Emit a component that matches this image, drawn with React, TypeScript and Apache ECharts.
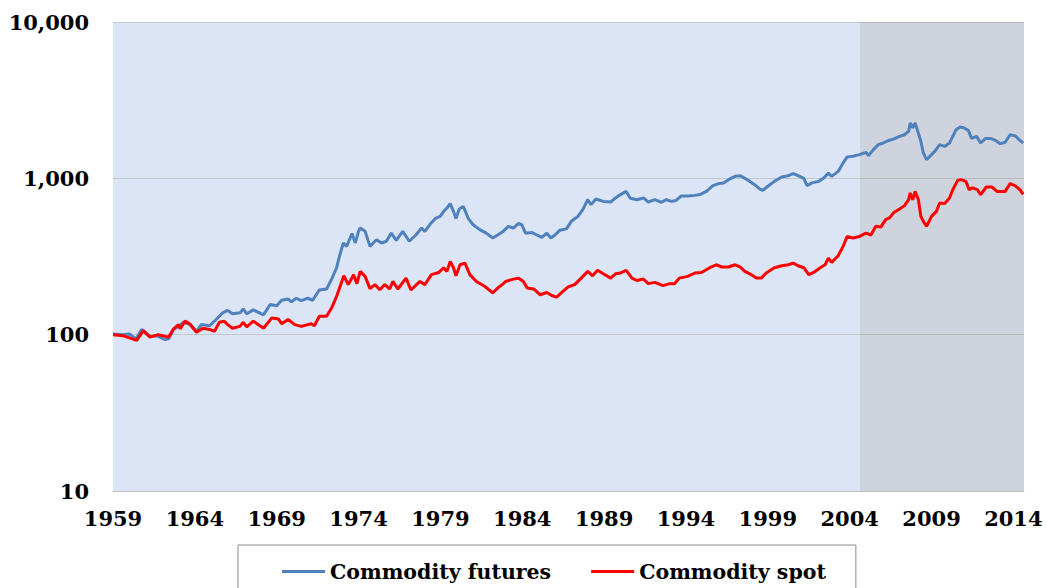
import React, { useEffect, useRef } from "react";
import * as echarts from "echarts";

const BASE_YEAR = 1959;
const X_MAX_YEAR = 2014.65;
const SHADE_START = 2004.63;
const yTicks = [10, 100, 1000, 10000];

const futuresYears = [
  1959.0, 1959.6, 1960.0, 1960.4, 1960.75, 1961.26, 1961.67, 1962.18, 1962.4, 1962.7,
  1963.0, 1963.3, 1963.7, 1964.1, 1964.4, 1964.9, 1965.3, 1965.7, 1966.0, 1966.3,
  1966.76, 1966.96, 1967.17, 1967.57, 1968.2, 1968.6, 1969.0, 1969.3, 1969.7, 1969.9,
  1970.2, 1970.5, 1970.9, 1971.2, 1971.6, 1972.05, 1972.35, 1972.66, 1972.86, 1973.07,
  1973.27, 1973.6, 1973.8, 1974.0, 1974.1, 1974.4, 1974.7, 1974.9, 1975.1, 1975.4,
  1975.7, 1976.0, 1976.3, 1976.7, 1977.1, 1977.5, 1977.85, 1978.05, 1978.4, 1978.7,
  1979.0, 1979.2, 1979.4, 1979.6, 1979.8, 1979.95, 1980.15, 1980.4, 1980.7, 1981.0,
  1981.4, 1981.8, 1982.2, 1982.5, 1982.8, 1983.15, 1983.45, 1983.76, 1983.97, 1984.2,
  1984.6, 1984.9, 1985.2, 1985.5, 1985.75, 1986.0, 1986.3, 1986.7, 1987.0, 1987.4,
  1987.7, 1988.0, 1988.2, 1988.5, 1988.95, 1989.4, 1989.7, 1990.0, 1990.35, 1990.6,
  1991.0, 1991.4, 1991.7, 1992.1, 1992.5, 1992.8, 1993.1, 1993.4, 1993.7, 1994.1,
  1994.55, 1994.85, 1995.25, 1995.65, 1996.0, 1996.3, 1996.6, 1997.0, 1997.3, 1997.6,
  1997.9, 1998.2, 1998.5, 1998.7, 1999.0, 1999.4, 1999.85, 2000.25, 2000.55, 2000.85,
  2001.2, 2001.4, 2001.7, 2002.1, 2002.4, 2002.7, 2002.9, 2003.3, 2003.6, 2003.85,
  2004.2, 2004.6, 2005.0, 2005.15, 2005.45, 2005.75, 2006.05, 2006.35, 2006.7, 2007.05,
  2007.35, 2007.6, 2007.7, 2007.85, 2008.0, 2008.1, 2008.35, 2008.5, 2008.7, 2009.0,
  2009.2, 2009.5, 2009.8, 2010.1, 2010.3, 2010.5, 2010.75, 2011.0, 2011.25, 2011.45,
  2011.75, 2012.0, 2012.3, 2012.6, 2012.9, 2013.2, 2013.5, 2013.8, 2014.1, 2014.4,
  2014.6,
];
const futuresValues = [
  101, 100, 101, 94, 108, 97.5, 98.5, 93, 94, 108,
  113, 120, 116, 105, 116, 114, 125, 138, 143, 136,
  138, 146, 136, 144, 134, 156, 153, 166, 169, 162,
  171, 165, 171, 166, 193, 196, 226, 268, 325, 386,
  367, 443, 386, 458, 481, 458, 367, 386, 405, 386,
  396, 446, 401, 458, 396, 434, 481, 458, 514, 554,
  573, 615, 646, 689, 615, 554, 637, 661, 554, 505,
  470, 446, 415, 434, 455, 493, 481, 514, 505, 446,
  450, 434, 419, 446, 415, 434, 466, 475, 531, 571,
  631, 730, 679, 737, 712, 706, 749, 787, 825, 745,
  730, 749, 706, 730, 703, 730, 712, 722, 770, 770,
  778, 787, 825, 898, 925, 935, 981, 1030, 1040, 1000,
  956, 911, 855, 838, 890, 956, 1020, 1040, 1072, 1040,
  1000, 898, 935, 956, 1000, 1080, 1030, 1108, 1254, 1370,
  1383, 1417, 1465, 1398, 1526, 1642, 1683, 1740, 1790, 1856,
  1900, 1998, 2260, 2100, 2260, 2100, 1724, 1453, 1316, 1417,
  1488, 1642, 1600, 1683, 1856, 2048, 2131, 2100, 2025, 1800,
  1856, 1683, 1800, 1800, 1750, 1667, 1700, 1900, 1874, 1750,
  1683,
];

const spotYears = [
  1959.0, 1959.6, 1960.45, 1960.85, 1961.26, 1961.77, 1962.4, 1962.7, 1963.0, 1963.1,
  1963.4, 1963.7, 1964.1, 1964.5, 1964.9, 1965.2, 1965.5, 1965.8, 1966.0, 1966.3,
  1966.75, 1966.96, 1967.17, 1967.57, 1968.2, 1968.7, 1969.1, 1969.3, 1969.7, 1970.1,
  1970.5, 1971.1, 1971.3, 1971.6, 1972.05, 1972.35, 1972.66, 1972.86, 1973.1, 1973.37,
  1973.7, 1973.9, 1974.1, 1974.4, 1974.7, 1975.0, 1975.3, 1975.6, 1975.9, 1976.1,
  1976.4, 1976.9, 1977.2, 1977.75, 1978.05, 1978.45, 1978.9, 1979.2, 1979.4, 1979.6,
  1979.8, 1979.95, 1980.2, 1980.5, 1980.8, 1981.2, 1981.7, 1982.2, 1982.5, 1982.8,
  1983.0, 1983.35, 1983.76, 1984.07, 1984.3, 1984.7, 1985.1, 1985.5, 1985.8, 1986.1,
  1986.4, 1986.8, 1987.2, 1987.6, 1988.0, 1988.3, 1988.6, 1988.95, 1989.4, 1989.7,
  1990.0, 1990.35, 1990.7, 1991.0, 1991.4, 1991.7, 1992.1, 1992.6, 1993.0, 1993.3,
  1993.6, 1994.1, 1994.55, 1994.95, 1995.45, 1995.85, 1996.2, 1996.6, 1997.0, 1997.3,
  1997.6, 1997.9, 1998.3, 1998.6, 1998.9, 1999.4, 1999.85, 2000.25, 2000.55, 2000.85,
  2001.2, 2001.5, 2001.8, 2002.2, 2002.5, 2002.7, 2002.9, 2003.3, 2003.6, 2003.85,
  2004.2, 2004.6, 2005.0, 2005.3, 2005.6, 2005.9, 2006.2, 2006.45, 2006.7, 2007.05,
  2007.35, 2007.6, 2007.7, 2007.85, 2008.0, 2008.2, 2008.35, 2008.5, 2008.7, 2009.0,
  2009.3, 2009.5, 2009.8, 2010.1, 2010.3, 2010.6, 2010.8, 2011.1, 2011.3, 2011.5,
  2011.8, 2012.0, 2012.35, 2012.7, 2013.0, 2013.5, 2013.8, 2014.1, 2014.4, 2014.6,
];
const spotValues = [
  100, 98.5, 92, 106, 96.5, 100, 96.5, 109, 116, 109,
  122, 117, 103.5, 110, 108, 105, 120, 122, 116, 110,
  113, 120, 112, 122, 110, 128, 126, 117.5, 125, 116,
  113, 117.5, 114, 131, 131, 148, 176, 202, 238, 209,
  242, 212, 254, 236, 197, 209, 194, 209, 196, 219,
  196, 230, 193, 219, 209, 242, 250, 268, 254, 294,
  268, 238, 280, 287, 242, 219, 204, 185, 199, 210,
  219, 225, 230, 219, 199, 196, 180, 186, 178, 174,
  186, 202, 209, 230, 254, 238, 258, 245, 230, 245,
  248, 258, 230, 222, 227, 212, 216, 206, 212, 212,
  230, 236, 248, 250, 268, 280, 271, 271, 280, 271,
  254, 245, 230, 230, 248, 268, 276, 280, 287, 276,
  268, 242, 250, 268, 280, 309, 290, 320, 367, 425,
  415, 425, 446, 434, 493, 488, 544, 560, 605, 637,
  669, 730, 806, 730, 825, 730, 571, 531, 493, 571,
  615, 696, 689, 749, 846, 970, 981, 956, 846, 868,
  846, 787, 880, 880, 825, 825, 925, 898, 846, 790,
];

const FONT = "DejaVu Serif";

export default function App() {
  const ref = useRef<HTMLDivElement>(null);

  useEffect(() => {
    if (!ref.current) return;
    const chart = echarts.init(ref.current, undefined, { renderer: "svg" });
    const toPairs = (ys: number[], vs: number[]) => ys.map((y, i) => [y - BASE_YEAR, vs[i]]);

    chart.setOption({
      animation: false,
      grid: {
        left: 113,
        right: 23,
        top: 22,
        bottom: 97,
        show: true,
        backgroundColor: "#dbe5f5",
        borderWidth: 0,
      },
      legend: {
        left: 238,
        top: 545,
        padding: [16, 30, 40, 44],
        itemGap: 40,
        itemWidth: 43,
        itemHeight: 3,
        icon: "rect",
        borderColor: "#8c8c8c",
        borderWidth: 1,
        backgroundColor: "#ffffff",
        textStyle: { fontFamily: FONT, fontWeight: "bold", fontSize: 20.5, color: "#000" },
        data: ["Commodity futures", "Commodity spot"],
      },
      xAxis: {
        type: "value",
        min: 0,
        max: X_MAX_YEAR - BASE_YEAR,
        interval: 5,
        splitLine: { show: false },
        axisTick: { show: false },
        axisLine: { show: true, lineStyle: { color: "#bfbfbf", width: 1 } },
        axisLabel: {
          showMaxLabel: false,
          margin: 17,
          fontFamily: FONT,
          fontWeight: "bold",
          fontSize: 21,
          color: "#000",
          formatter: (v: number) => String(Math.round(BASE_YEAR + v)),
        },
      },
      yAxis: {
        type: "log",
        logBase: 10,
        min: yTicks[0],
        max: yTicks[yTicks.length - 1],
        axisLine: { show: false },
        axisTick: { show: false },
        splitLine: { show: true, lineStyle: { color: "#c4c7cc", width: 1 } },
        axisLabel: {
          margin: 24,
          fontFamily: FONT,
          fontWeight: "bold",
          fontSize: 21,
          color: "#000",
          formatter: (v: number) => Math.round(v).toLocaleString("en-US"),
        },
      },
      series: [
        {
          name: "Commodity futures",
          type: "line",
          data: toPairs(futuresYears, futuresValues),
          showSymbol: false,
          symbol: "none",
          lineStyle: { color: "#4f81bd", width: 3 },
          itemStyle: { color: "#4f81bd" },
          z: 3,
          markArea: {
            silent: true,
            itemStyle: { color: "rgba(160,140,126,0.2)" },
            data: [[
              { xAxis: SHADE_START - BASE_YEAR, yAxis: yTicks[yTicks.length - 1] },
              { xAxis: X_MAX_YEAR - BASE_YEAR, yAxis: yTicks[0] },
            ]],
          },
        },
        {
          name: "Commodity spot",
          type: "line",
          data: toPairs(spotYears, spotValues),
          showSymbol: false,
          symbol: "none",
          lineStyle: { color: "#ff0000", width: 3 },
          itemStyle: { color: "#ff0000" },
          z: 4,
        },
      ],
    });

    return () => chart.dispose();
  }, []);

  return <div ref={ref} style={{ width: 1047, height: 588, position: "absolute", left: 0, top: 0 }} />;
}
